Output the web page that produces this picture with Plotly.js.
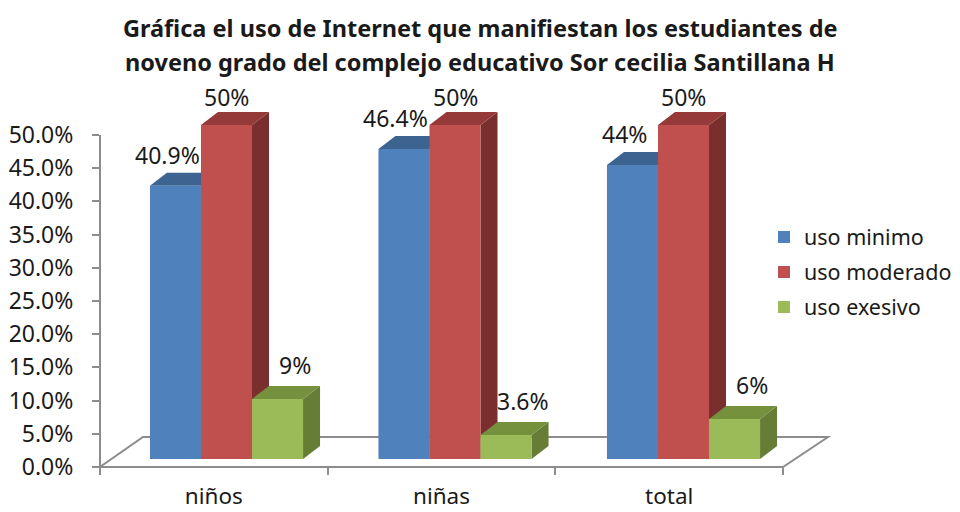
<!DOCTYPE html>
<html><head><meta charset="utf-8">
<script src="https://cdn.plot.ly/plotly-3.0.1.min.js"></script>
<style>html,body{margin:0;padding:0;background:#fff}#chart{width:960px;height:512px}</style>
</head><body><div id="chart"></div>
<script>
// ---- data ----
const categories = ['niños', 'niñas', 'total'];
const seriesNames = ['uso minimo', 'uso moderado', 'uso exesivo'];
const usoMinimo = [0.409, 0.464, 0.44];
const usoModerado = [0.5, 0.5, 0.5];
const usoExesivo = [0.09, 0.036, 0.06];
const yTickVals = [0, 0.05, 0.10, 0.15, 0.20, 0.25, 0.30, 0.35, 0.40, 0.45, 0.50];
const titleLines = ['Gráfica el uso de Internet que manifiestan los estudiantes de',
                    'noveno grado del complejo educativo Sor cecilia Santillana H'];

// ---- styling / geometry ----
const series = [usoMinimo, usoModerado, usoExesivo];
const frontColors = ['#4F81BD', '#C0504D', '#9BBB59'];
const topColors = ['#3D6391', '#953A38', '#76913D'];
const sideColors = ['#365A86', '#7A2F2E', '#667D35'];
const labelDX = [-8, 0, 17];
const labelDY = [31, 28, 34];
const FONT = 'Noto Sans, Open Sans, sans-serif';
const TXT = '#1a1a1a';
const W = 960, H = 512, M = {l: 100, r: 177, t: 95, b: 45, autoexpand: false};
const plotW = W - M.l - M.r, plotH = H - M.t - M.b;
const pxPerCat = 228.5;
const xMin = -0.5536;
const xRange = [xMin, xMin + plotW / pxPerCat];
const pxPerUnitY = 668;
const yRange = [-8 / pxPerUnitY, (plotH - 8) / pxPerUnitY];
const y2Range = [0, plotH / 664];
const bargap = 0.33;
const barW = (1 - bargap) / 3;
const barPx = barW * pxPerCat;
const depthX = 17, depthY = 13, dY = depthY / pxPerUnitY;

const idx = categories.map((c, i) => i);
const traces = series.map((vals, s) => ({
  type: 'bar', x: idx, y: vals, name: seriesNames[s], legendgroup: seriesNames[s],
  marker: {color: frontColors[s], line: {width: 0}},
  hoverinfo: 'skip', xaxis: 'x', yaxis: 'y'
}));
// invisible trace carrying the category tick axis
traces.push({type: 'scatter', mode: 'markers', x: categories, y: categories.map(() => 0),
  xaxis: 'x2', yaxis: 'y2', marker: {opacity: 0}, showlegend: false, hoverinfo: 'skip'});

const shapes = [];
const annotations = [];
series.forEach((vals, s) => {
  vals.forEach((v, c) => {
    const center = c + (s - 1) * barW;
    const xr = center + barW / 2;
    shapes.push({type: 'path', xref: 'x', yref: 'y', xsizemode: 'pixel', xanchor: xr,
      path: `M0,0 L${depthX},${dY} L${depthX},${v + dY} L0,${v} Z`,
      fillcolor: sideColors[s], line: {width: 0}, layer: 'below'});
    shapes.push({type: 'path', xref: 'x', yref: 'y', xsizemode: 'pixel', xanchor: xr,
      path: `M${-barPx},${v} L0,${v} L${depthX},${v + dY} L${depthX - barPx},${v + dY} Z`,
      fillcolor: topColors[s], line: {width: 0}, layer: 'below'});
    annotations.push({xref: 'x', yref: 'y', x: center, y: v, text: (Math.round(v * 1000) / 10) + '%',
      showarrow: false, xanchor: 'center', yanchor: 'middle', xshift: labelDX[s], yshift: labelDY[s],
      font: {family: FONT, size: 23, color: TXT}});
  });
});
// title lines
titleLines.forEach((t, i) => {
  annotations.push({xref: 'paper', yref: 'paper', x: (480 - M.l) / plotW, y: (H - M.b - (28 + 34 * i)) / plotH,
    text: '<b>' + t + '</b>', showarrow: false, xanchor: 'center', yanchor: 'middle',
    font: {family: FONT, size: 23.5, color: TXT}});
});
// floor outline
shapes.push({type: 'path', xref: 'paper', yref: 'paper', xsizemode: 'pixel', ysizemode: 'pixel',
  xanchor: 0, yanchor: 0, path: `M0,0 L${plotW},0 L${plotW + 45},30 L43,30 Z`,
  fillcolor: 'rgba(0,0,0,0)', line: {color: '#8c8c8c', width: 2}, layer: 'below'});
// value axis line
shapes.push({type: 'line', xref: 'paper', yref: 'y2', x0: 0, x1: 0, y0: 0, y1: yTickVals[yTickVals.length - 1],
  line: {color: '#8c8c8c', width: 2}});

const layout = {
  width: W, height: H, margin: M,
  paper_bgcolor: '#fff', plot_bgcolor: 'rgba(0,0,0,0)',
  font: {family: FONT, color: TXT},
  barmode: 'group', bargap: bargap, bargroupgap: 0,
  xaxis: {type: 'linear', range: xRange, visible: false, fixedrange: true},
  yaxis: {range: yRange, visible: false, fixedrange: true},
  xaxis2: {type: 'category', overlaying: 'x', anchor: 'y2', range: [-0.5, 2.5], categoryarray: categories,
    tickson: 'boundaries', ticks: 'outside', ticklen: 7, tickwidth: 2, tickcolor: '#8c8c8c',
    ticklabelstandoff: 13,
    showline: false, showgrid: false, zeroline: false, tickfont: {family: FONT, size: 22.5, color: TXT}},
  yaxis2: {overlaying: 'y', anchor: 'x2', side: 'left', range: y2Range, tickvals: yTickVals, tickformat: '.1%',
    ticks: 'outside', ticklen: 7, tickwidth: 2, tickcolor: '#8c8c8c', showline: false, showgrid: false,
    ticklabelstandoff: 14,
    zeroline: false, tickfont: {family: FONT, size: 23, color: TXT}},
  legend: {xref: 'container', yref: 'container', x: 764 / W, xanchor: 'left', y: 1 - 272 / H, yanchor: 'middle',
    tracegroupgap: 4,
    font: {family: FONT, size: 21.5, color: TXT}, bgcolor: 'rgba(0,0,0,0)'},
  shapes: shapes, annotations: annotations, showlegend: true
};
Plotly.newPlot('chart', traces, layout, {displayModeBar: false, staticPlot: true});
</script></body></html>
